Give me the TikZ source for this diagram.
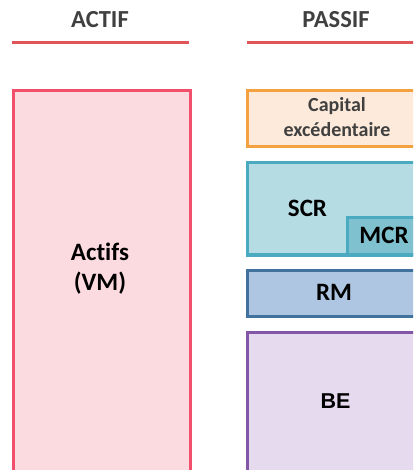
\documentclass[tikz,border=0pt]{standalone}
\usepackage{fontspec}
\setmainfont[RawFeature={-liga}]{Carlito}
\newfontfamily\arialfont{Liberation Sans}
\definecolor{hdrline}{HTML}{E0555A}
\definecolor{hdrtext}{HTML}{404040}
\definecolor{actB}{HTML}{F24F6D}
\definecolor{actF}{HTML}{FCDBE0}
\definecolor{capB}{HTML}{F4A23F}
\definecolor{capF}{HTML}{FDEADA}
\definecolor{scrB}{HTML}{4AAAC0}
\definecolor{scrF}{HTML}{B5DCE3}
\definecolor{mcrF}{HTML}{7FC1CE}
\definecolor{rmB}{HTML}{41729E}
\definecolor{rmF}{HTML}{AEC6E1}
\definecolor{beB}{HTML}{8356A8}
\definecolor{beF}{HTML}{E5DAEE}
\begin{document}
\begin{tikzpicture}[x=1pt,y=1pt,
  hdr/.style={font=\bfseries\fontsize{24.5}{28}\selectfont, text=hdrtext, inner sep=0pt},
  hline/.style={line width=3pt, hdrline},
  blk/.style={draw, line width=3pt, inner sep=0pt},
  lbl/.style={font=\bfseries\fontsize{25}{30}\selectfont, align=center, inner sep=0pt}
]
\useasboundingbox (0,0) rectangle (413,-470);
\clip (0,0) rectangle (413,-470);
% headers
\node[hdr] (hA) at (100,-19.5) {ACTIF};
\node[hdr] (hP) at (336,-19.5) {PASSIF};
\coordinate (lA1) at (12,-43);
\coordinate (lA2) at (189,-43);
\coordinate (lP1) at (247,-43);
\coordinate (lP2) at (430,-43);
\draw[hline] (lA1) -- (lA2);
\draw[hline] (lP1) -- (lP2);
% actif
\node[blk, draw=actB, fill=actF, minimum width=177pt, minimum height=420pt, anchor=north west] (act) at (11.5,-89) {};
\node[lbl] (actT) at (100,-269) {Actifs\\(VM)};
% passif
\node[blk, draw=capB, fill=capF, minimum width=182pt, minimum height=56pt, anchor=north west] (cap) at (246,-89) {};
\node[lbl, font=\bfseries\fontsize{20}{25}\selectfont, text=hdrtext] (capT) at (337,-117) {Capital\\excédentaire};
\node[blk, draw=scrB, fill=scrF, minimum width=182pt, minimum height=91pt, anchor=north west] (scr) at (246,-161.5) {};
\node[blk, draw=scrB, fill=mcrF, minimum width=82pt, minimum height=37pt, anchor=north west] (mcr) at (346,-215.5) {};
\draw[scrB, line width=3pt] (scr.south west) -- (scr.south east);
\node[lbl] (scrT) at (307.5,-208) {SCR};
\node[lbl] (mcrT) at (384,-235) {MCR};
\node[blk, draw=rmB, fill=rmF, minimum width=182pt, minimum height=46pt, anchor=north west] (rm) at (246,-269) {};
\node[lbl] (rmT) at (334,-292) {RM};
\node[blk, draw=beB, fill=beF, minimum width=182pt, minimum height=170pt, anchor=north west] (be) at (246,-330.5) {};
\node[lbl, font=\arialfont\bfseries\fontsize{21.5}{25}\selectfont] (beT) at (335.5,-401) {BE};
\end{tikzpicture}
\end{document}
